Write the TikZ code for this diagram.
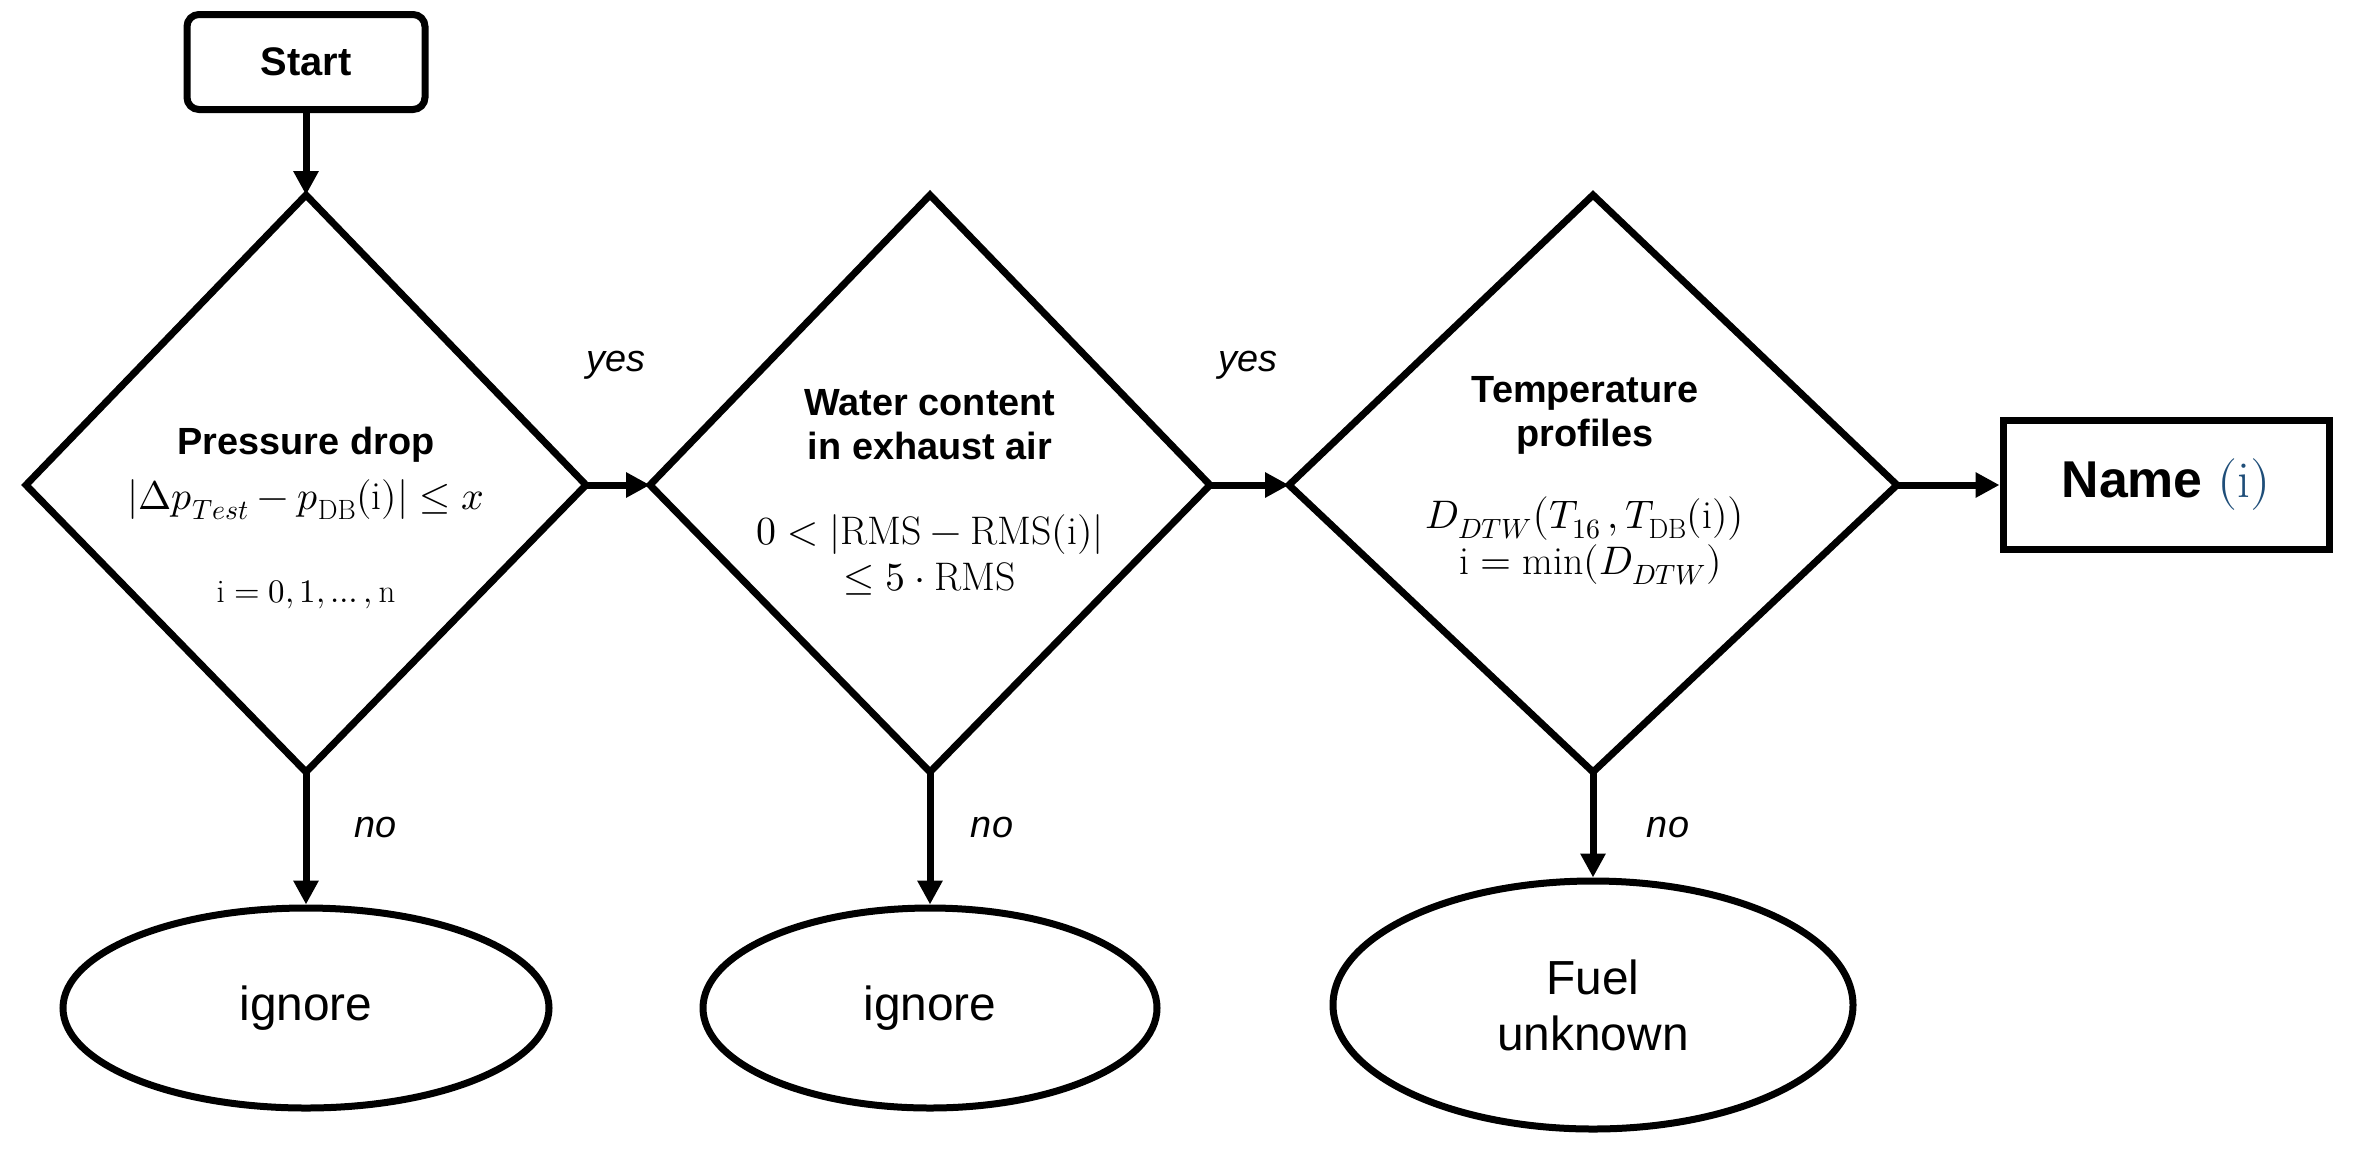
\documentclass[tikz,border=0pt]{standalone}
\usepackage{amsmath}
\usepackage{unicode-math}
\setmainfont{Liberation Sans}
\setmathfont{Latin Modern Math}
\setmathrm{Latin Modern Roman}
\usetikzlibrary{arrows.meta,shapes.geometric}
\begin{document}
\begin{tikzpicture}[x=1bp,y=-1bp,
  ln/.style={line width=7bp},
  arr/.style={ln,-{Triangle[length=24bp,width=24bp]}},
  ell/.style={ellipse,draw,ln,inner sep=0pt},
  lab/.style={font=\fontsize{38}{42}\selectfont\itshape},
  ttl/.style={font=\fontsize{38}{44}\selectfont\bfseries,align=center},
  mth/.style={font=\fontsize{40}{46}\selectfont}]
\useasboundingbox (0,0) rectangle (2357,1157);
% start
\node[draw,ln,rounded corners=12bp,minimum width=238bp,minimum height=95bp,font=\fontsize{40}{44}\selectfont\bfseries] (start) at (306,62) {Start};
% diamonds
\foreach \n/\cx/\w in {d1/306/280,d2/930/280,d3/1593/304}{
  \coordinate (\n t) at (\cx,195);
  \coordinate (\n b) at (\cx,772);
  \coordinate (\n l) at (\cx-\w,485);
  \coordinate (\n r) at (\cx+\w,485);
  \draw[ln,line join=miter] (\n t)--(\n r)--(\n b)--(\n l)--cycle;
}
% texts
\node[ttl] (t1) at (306,445) {Pressure drop};
\node[mth] (m1) at (306,500) {$\lvert\Delta p_{Test}-p_{\mathrm{DB}}(\mathrm{i})\rvert\le x$};
\node[mth,font=\fontsize{33}{38}\selectfont] (m1b) at (306,595) {$\mathrm{i}=0,1,\dots,\mathrm{n}$};
\node[ttl] (t2) at (930,425) {Water content\\in exhaust air};
\node[mth,align=center] (m2) at (930,555) {$0<\lvert\mathrm{RMS}-\mathrm{RMS}(\mathrm{i})\rvert$\\$\le 5\cdot\mathrm{RMS}$};
\node[ttl] (t3) at (1585,415) {Temperature\\profiles};
\node[mth,align=center] (m3) at (1585,540) {$D_{DTW}\bigl(T_{16}\,,T_{\mathrm{DB}}(\mathrm{i})\bigr)$\\$\;\mathrm{i}=\min(D_{DTW})$};
% name
\node[draw,ln,minimum width=326bp,minimum height=129bp,font=\fontsize{52}{56}\selectfont\bfseries] (name) at (2166,485) {Name \textcolor[HTML]{1F4E79}{\mdseries$(\mathrm{i})$}};
% ellipses
\node[ell,minimum width=486bp,minimum height=200bp,font=\fontsize{48}{54}\selectfont] (e1) at (306,1008) {ignore};
\node[ell,minimum width=454bp,minimum height=200bp,font=\fontsize{48}{54}\selectfont] (e2) at (930,1008) {ignore};
\node[ell,minimum width=520bp,minimum height=248bp,font=\fontsize{48}{56}\selectfont,align=center] (e3) at (1593,1005) {Fuel\\unknown};
% arrows
\draw[arr] (start.south) -- (d1t);
\draw[arr] (d1r) -- (d2l);
\draw[arr] (d2r) -- (d3l);
\draw[arr] (d3r) -- (name.west);
\draw[arr] (d1b) -- (e1.north);
\draw[arr] (d2b) -- (e2.north);
\draw[arr] (d3b) -- (e3.north);
% labels
\node[lab] (y1) at (616,365) {yes};
\node[lab] (y2) at (1248,365) {yes};
\node[lab] (n1) at (376,827) {no};
\node[lab] (n2) at (992,827) {no};
\node[lab] (n3) at (1668,827) {no};
\end{tikzpicture}
\end{document}
